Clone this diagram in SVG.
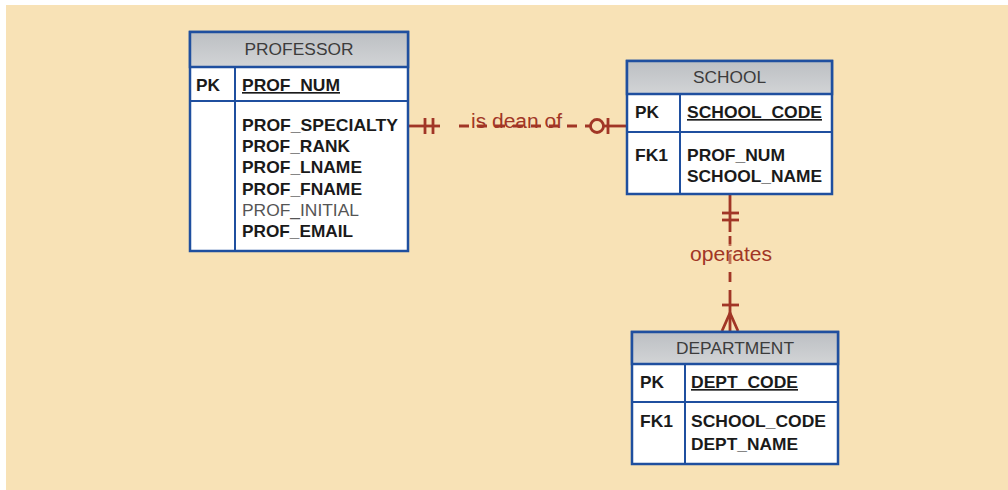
<svg xmlns="http://www.w3.org/2000/svg" width="1008" height="490" viewBox="0 0 1008 490">
  <defs>
    <linearGradient id="hdr" x1="0" y1="0" x2="0" y2="1">
      <stop offset="0" stop-color="#bcbfc3"/>
      <stop offset="1" stop-color="#d2d4d6"/>
    </linearGradient>
    <style>
      .box { fill: #ffffff; stroke: #1f4f9f; stroke-width: 2.5; }
      .head { fill: url(#hdr); stroke: #1f4f9f; stroke-width: 2.5; }
      .div { stroke: #1f4f9f; stroke-width: 2; fill: none; }
      .title { font-family: "Liberation Sans", Arial, sans-serif; font-size: 16px; fill: #3c3c3c; text-anchor: middle; }
      .key { font-family: "Liberation Sans", Arial, sans-serif; font-size: 16.5px; font-weight: bold; fill: #1a1a1a; }
      .att { font-family: "Liberation Sans", Arial, sans-serif; font-size: 16.5px; font-weight: bold; fill: #1a1a1a; }
      .opt { font-family: "Liberation Sans", Arial, sans-serif; font-size: 16.5px; fill: #555555; }
      .pk { text-decoration: underline; }
      .rel { stroke: #a13626; stroke-width: 2.8; fill: none; }
      .dash { stroke: #a13626; stroke-width: 2.8; fill: none; stroke-dasharray: 10 8; }
      .lbl { font-family: "Liberation Sans", Arial, sans-serif; font-size: 20px; fill: #a13626; }
    </style>
  </defs>

  <!-- page background -->
  <rect x="0" y="0" width="1008" height="490" fill="#ffffff"/>
  <rect x="6" y="5" width="1002" height="485" fill="#f8e2b6"/>

  <!-- relationships -->
  <g id="connectors">
    <!-- PROFESSOR (1, mandatory) is dean of SCHOOL (0..1) -->
    <g id="is-dean-of">
      <line class="rel" x1="409" y1="126" x2="440" y2="126"/>
      <line class="rel" x1="425" y1="118" x2="425" y2="134"/>
      <line class="rel" x1="433" y1="118" x2="433" y2="134"/>
      <line class="dash" x1="459" y1="126" x2="590" y2="126"/>
      <text class="lbl" x="471" y="128" textLength="91" lengthAdjust="spacingAndGlyphs">is dean of</text>
      <circle cx="597" cy="126" r="6.5" class="rel"/>
      <line class="rel" x1="603.5" y1="126" x2="627" y2="126"/>
      <line class="rel" x1="608" y1="118" x2="608" y2="134"/>
    </g>
    <!-- SCHOOL (1, mandatory) operates DEPARTMENT (1..many) -->
    <g id="operates">
      <line class="rel" x1="730" y1="195" x2="730" y2="232"/>
      <line class="rel" x1="722" y1="213" x2="739" y2="213"/>
      <line class="rel" x1="722" y1="220" x2="739" y2="220"/>
      <line class="dash" x1="730" y1="236" x2="730" y2="300"/>
      <rect x="688" y="244" width="86" height="20" fill="#f8e2b6" opacity="0.35"/>
      <text class="lbl" x="690" y="261" textLength="82" lengthAdjust="spacingAndGlyphs">operates</text>
      <line class="rel" x1="730" y1="300" x2="730" y2="331"/>
      <line class="rel" x1="722" y1="305" x2="739" y2="305"/>
      <polyline class="rel" points="722,331 730,313 738,331"/>
    </g>
  </g>

  <!-- PROFESSOR entity -->
  <g id="professor">
    <rect class="box" x="190" y="32" width="218" height="219"/>
    <rect class="head" x="190" y="32" width="218" height="35"/>
    <line class="div" x1="190" y1="101" x2="408" y2="101"/>
    <line class="div" x1="235" y1="67" x2="235" y2="251"/>
    <text class="title" x="299" y="54.5" textLength="109" lengthAdjust="spacingAndGlyphs">PROFESSOR</text>
    <text class="key" x="196" y="91" textLength="24" lengthAdjust="spacingAndGlyphs">PK</text>
    <text class="att pk" x="242" y="91" textLength="98" lengthAdjust="spacingAndGlyphs">PROF_NUM</text>
    <text class="att" x="242" y="131" textLength="156" lengthAdjust="spacingAndGlyphs">PROF_SPECIALTY</text>
    <text class="att" x="242" y="152" textLength="108" lengthAdjust="spacingAndGlyphs">PROF_RANK</text>
    <text class="att" x="242" y="173" textLength="120" lengthAdjust="spacingAndGlyphs">PROF_LNAME</text>
    <text class="att" x="242" y="194.5" textLength="120" lengthAdjust="spacingAndGlyphs">PROF_FNAME</text>
    <text class="opt" x="242" y="215.5" textLength="117" lengthAdjust="spacingAndGlyphs">PROF_INITIAL</text>
    <text class="att" x="242" y="237" textLength="111" lengthAdjust="spacingAndGlyphs">PROF_EMAIL</text>
  </g>

  <!-- SCHOOL entity -->
  <g id="school">
    <rect class="box" x="627" y="61" width="205" height="133"/>
    <rect class="head" x="627" y="61" width="205" height="33"/>
    <line class="div" x1="627" y1="132" x2="832" y2="132"/>
    <line class="div" x1="680" y1="94" x2="680" y2="194"/>
    <text class="title" x="729.5" y="83" textLength="73" lengthAdjust="spacingAndGlyphs">SCHOOL</text>
    <text class="key" x="635" y="118" textLength="24" lengthAdjust="spacingAndGlyphs">PK</text>
    <text class="att pk" x="687" y="118" textLength="135" lengthAdjust="spacingAndGlyphs">SCHOOL_CODE</text>
    <text class="key" x="635" y="161" textLength="33" lengthAdjust="spacingAndGlyphs">FK1</text>
    <text class="att" x="687" y="161" textLength="98" lengthAdjust="spacingAndGlyphs">PROF_NUM</text>
    <text class="att" x="687" y="182" textLength="135" lengthAdjust="spacingAndGlyphs">SCHOOL_NAME</text>
  </g>

  <!-- DEPARTMENT entity -->
  <g id="department">
    <rect class="box" x="632" y="332" width="206" height="132"/>
    <rect class="head" x="632" y="332" width="206" height="32"/>
    <line class="div" x1="632" y1="402" x2="838" y2="402"/>
    <line class="div" x1="685" y1="364" x2="685" y2="464"/>
    <text class="title" x="735" y="354" textLength="118" lengthAdjust="spacingAndGlyphs">DEPARTMENT</text>
    <text class="key" x="640" y="388" textLength="24" lengthAdjust="spacingAndGlyphs">PK</text>
    <text class="att pk" x="691" y="388" textLength="107" lengthAdjust="spacingAndGlyphs">DEPT_CODE</text>
    <text class="key" x="640" y="427" textLength="33" lengthAdjust="spacingAndGlyphs">FK1</text>
    <text class="att" x="691" y="427" textLength="135" lengthAdjust="spacingAndGlyphs">SCHOOL_CODE</text>
    <text class="att" x="691" y="450" textLength="107" lengthAdjust="spacingAndGlyphs">DEPT_NAME</text>
  </g>
</svg>
